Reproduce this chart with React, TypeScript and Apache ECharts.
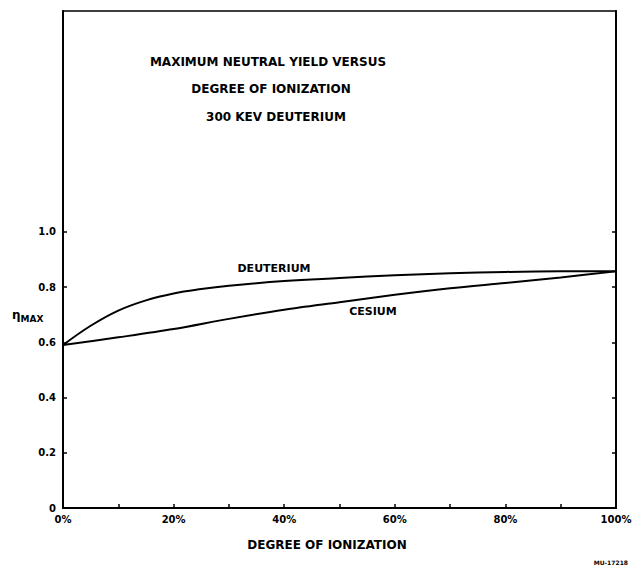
import React, { useEffect, useRef } from "react";
import * as echarts from "echarts";

const xPercent = [0, 5, 10, 15, 20, 25, 30, 40, 50, 60, 70, 80, 90, 100];
const deuterium = [0.59, 0.66, 0.715, 0.752, 0.777, 0.793, 0.805, 0.822, 0.833, 0.843, 0.85, 0.855, 0.857, 0.857];
const cesiumX = [0, 10, 20, 30, 40, 50, 60, 70, 80, 90, 100];
const cesium = [0.59, 0.618, 0.648, 0.685, 0.718, 0.745, 0.772, 0.796, 0.815, 0.835, 0.857];
const yTicks = [0, 0.2, 0.4, 0.6, 0.8, 1.0];
const titleLines = ["MAXIMUM NEUTRAL YIELD VERSUS", "DEGREE OF IONIZATION", "300 KEV DEUTERIUM"];

const FONT = "DejaVu Sans";

export default function App() {
  const ref = useRef<HTMLDivElement>(null);
  useEffect(() => {
    document.body.style.margin = "0";
    const chart = echarts.init(ref.current!, null, { renderer: "svg" });
    const txt = (text: string, x: number, y: number, size: number, align = "center") => ({
      type: "text",
      x,
      y,
      style: {
        text,
        fill: "#000",
        font: `bold ${size}px "${FONT}"`,
        align,
        verticalAlign: "middle",
      },
    });
    chart.setOption({
      animation: false,
      backgroundColor: "#fff",
      grid: {
        left: 63,
        right: 26,
        top: 11,
        bottom: 60,
        show: true,
        borderColor: "#000",
        borderWidth: 1.5,
        backgroundColor: "transparent",
      },
      xAxis: {
        type: "value",
        min: 0,
        max: 100,
        interval: 10,
        axisLine: { lineStyle: { color: "#000", width: 2 } },
        axisTick: { inside: true, length: 4, lineStyle: { color: "#000", width: 1.5 } },
        splitLine: { show: false },
        axisLabel: {
          color: "#000",
          fontFamily: FONT,
          fontWeight: "bold",
          fontSize: 10,
          margin: 6,
          formatter: (v: number) => (v % 20 === 0 ? `${v}%` : ""),
        },
      },
      yAxis: [
        {
          type: "value",
          min: 0,
          max: 1.8,
          interval: 0.2,
          position: "left",
          axisLine: { show: true, lineStyle: { color: "#000", width: 2 } },
          axisTick: { show: true, inside: true, length: 4, customValues: yTicks, lineStyle: { color: "#000", width: 1.5 } },
          splitLine: { show: false },
          axisLabel: {
            color: "#000",
            fontFamily: FONT,
            fontWeight: "bold",
            fontSize: 10,
            margin: 7,
            customValues: yTicks,
            formatter: (v: number) => (v > 1.01 ? "" : v === 0 ? "0" : v.toFixed(1)),
          },
        },
        {
          type: "value",
          min: 0,
          max: 1.8,
          interval: 0.2,
          position: "right",
          axisLine: { show: true, lineStyle: { color: "#000", width: 2 } },
          axisTick: { show: true, inside: true, length: 4, customValues: yTicks, lineStyle: { color: "#000", width: 1.5 } },
          splitLine: { show: false },
          axisLabel: { show: false },
        },
      ],
      series: [
        {
          type: "line",
          name: "DEUTERIUM",
          data: xPercent.map((x, i) => [x, deuterium[i]]),
          smooth: 0.4,
          showSymbol: false,
          lineStyle: { color: "#000", width: 2 },
        },
        {
          type: "line",
          name: "CESIUM",
          data: cesiumX.map((x, i) => [x, cesium[i]]),
          smooth: 0.3,
          showSymbol: false,
          lineStyle: { color: "#000", width: 2 },
        },
      ],
      graphic: [
        txt(titleLines[0], 268, 62, 12),
        txt(titleLines[1], 271, 89, 12),
        txt(titleLines[2], 276, 117, 12),
        txt("DEUTERIUM", 274, 268, 11),
        txt("CESIUM", 373, 311, 11),
        txt("DEGREE OF IONIZATION", 327, 545, 12),
        {
          type: "text",
          x: 12,
          y: 316,
          style: {
            text: "{a|η}{b|MAX}",
            verticalAlign: "middle",
            rich: {
              a: { font: `bold 12px "${FONT}"`, fill: "#000", verticalAlign: "top" },
              b: { font: `bold 9px "${FONT}"`, fill: "#000", verticalAlign: "bottom", padding: [6, 0, 0, 0] },
            },
          },
        },
        txt("MU-17218", 628, 562, 6, "right"),
      ],
    });
    return () => chart.dispose();
  }, []);
  return <div ref={ref} style={{ position: "absolute", left: 0, top: 0, width: 642, height: 568 }} />;
}
